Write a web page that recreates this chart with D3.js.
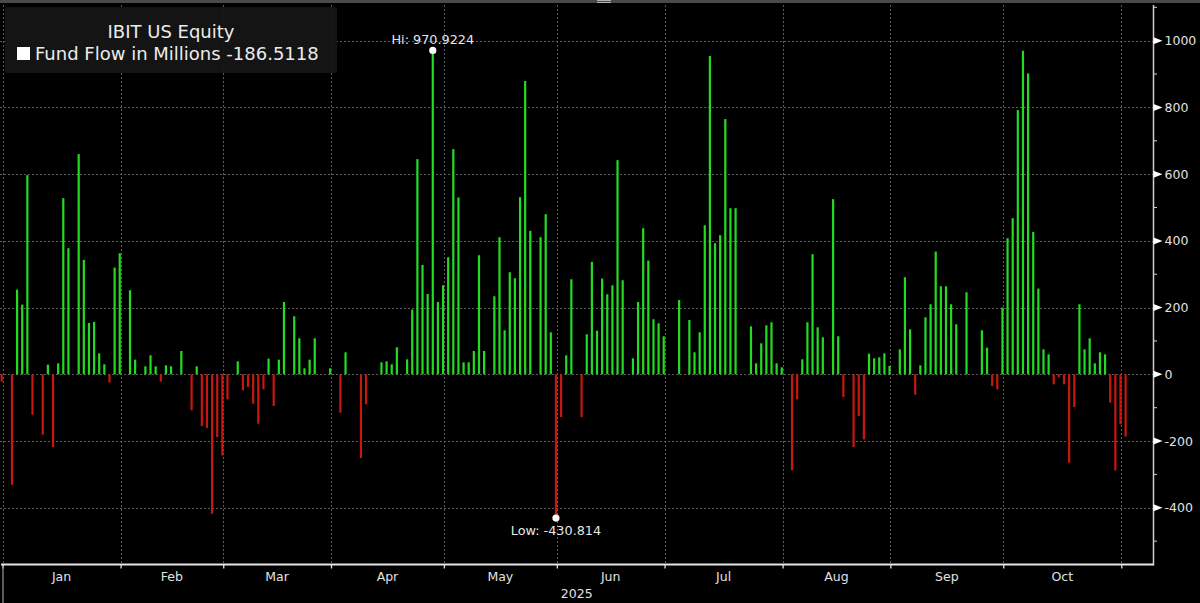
<!DOCTYPE html>
<html>
<head>
<meta charset="utf-8">
<script src="https://cdn.jsdelivr.net/npm/d3@7"></script>
<style>
  html, body { margin: 0; padding: 0; background: #000; overflow: hidden; }
  svg { display: block; }
</style>
</head>
<body>
<svg id="chart" width="1200" height="603"></svg>
<script>
// ---- data (millions USD, one entry per weekday; null = market closed) ----
const ticker = "IBIT US Equity";
const seriesName = "Fund Flow in Millions";
const firstDay = "2024-12-31";
const lastDay = "2025-11-03";
const monthLabels = ["Jan", "Feb", "Mar", "Apr", "May", "Jun", "Jul", "Aug", "Sep", "Oct"];
const yearLabel = "2025";
const yTicks = [-400, -200, 0, 200, 400, 600, 800, 1000];

const flowsDec = [-22];
const flowsJan = [null, -331, 254, 209, 597, -121, null, -181, 29, -218, 33, 528, 378, null, 660, 343, 154, 157, 63, 30, -25, 320, 363];
const flowsFeb = [0, 252, 44, 0, 24, 57, 24, -22, 27, 24, null, 70, 0, -108, 24, -155, -161, -418, -188, -243];
const flowsMar = [-75, 0, 39, -48, -38, -88, -148, -45, 47, -95, 44, 217, 0, 174, 108, 18, 44, 108, 0, 0, 18];
const flowsApr = [0, -115, 66, 0, 0, -251, -90, 0, 0, 36, 39, 30, 81, null, 45, 194, 645, 328, 241, 970.9224, 217, 267];
const flowsMay = [351, 675, 530, 36, 36, 70, 357, 70, 0, 234, 411, 132, 306, 288, 531, 879, 430, null, 411, 480, 126, -430.814];
const flowsJun = [-128, 57, 285, 0, -128, 120, 337, 131, 287, 240, 267, 642, 282, null, 48, 217, 438, 341, 165, 153, 114];
const flowsJul = [0, 0, 223, null, 163, 66, 126, 447, 954, 393, 417, 765, 498, 498, 0, 0, 144, 33, 93, 147, 156, 33, 21];
const flowsAug = [0, -288, -75, 45, 156, 360, 141, 111, 0, 525, 114, -68, 0, -218, -125, -195, 62, 48, 51, 63, 25];
const flowsSep = [null, 75, 291, 135, -61, 27, 171, 210, 368, 264, 264, 210, 150, 0, 246, 0, 0, 132, 80, -35, -45, 200];
const flowsOct = [408, 468, 792, 969.9, 902, 427, 257, 75, 60, -30, -9, -30, -265, -98, 210, 75, 108, 33, 66, 60, -85, -288, -150];
const flowsNov = [-186.5118];

// ---- build table ----
const parse = d3.timeParse("%Y-%m-%d");
const days = d3.timeDay.range(parse(firstDay), d3.timeDay.offset(parse(lastDay), 1))
  .filter(d => d.getDay() !== 0 && d.getDay() !== 6);
const flows = [].concat(flowsDec, flowsJan, flowsFeb, flowsMar, flowsApr, flowsMay,
  flowsJun, flowsJul, flowsAug, flowsSep, flowsOct, flowsNov);
const data = days.map((d, i) => ({ date: d, i: i, value: flows[i] }));

const W = 1200, H = 603;
const plotRight = 1153.5, plotTop = 5, plotBottom = 564.5;
const font = "DejaVu Sans, Verdana, sans-serif";

const svg = d3.select("#chart");

const x = d3.scaleLinear()
    .domain([0, data.length - 1])
    .range([1.7, 1125.6]);

const y = d3.scaleLinear()
    .domain([-570, 1107])
    .range([plotBottom, plotTop]);

// top strip
svg.append("rect").attr("x", 0).attr("y", 0).attr("width", W).attr("height", 3).attr("fill", "#4a4a4a");
svg.append("line").attr("x1", 597).attr("x2", 611).attr("y1", 0.5).attr("y2", 0.5).attr("stroke", "#b0b0b0");
svg.append("line").attr("x1", 597).attr("x2", 611).attr("y1", 2.5).attr("y2", 2.5).attr("stroke", "#b0b0b0");

// month boundaries: just after the last weekday of the previous month
const boundaries = [];
for (let m = 0; m <= 10; m++) {
  const k = data.findIndex(d => d.date.getFullYear() === 2025 && d.date.getMonth() === m);
  boundaries.push(x(k - 1) + 0.85);
}

// grid
const grid = svg.append("g").attr("stroke", "#5c5c5c").attr("stroke-dasharray", "2,2").attr("stroke-width", 1);
grid.selectAll("line.h")
    .data(yTicks)
    .enter().append("line")
    .attr("class", "h")
    .attr("x1", 0).attr("x2", plotRight)
    .attr("y1", d => Math.round(y(d)) + 0.5).attr("y2", d => Math.round(y(d)) + 0.5);
grid.selectAll("line.v")
    .data(boundaries)
    .enter().append("line")
    .attr("class", "v")
    .attr("x1", d => Math.round(d) + 0.5).attr("x2", d => Math.round(d) + 0.5)
    .attr("y1", plotTop).attr("y2", plotBottom);

// bars
const barW = 2.2;
svg.append("g")
  .selectAll("rect")
  .data(data.filter(d => d.value))
  .enter().append("rect")
  .attr("x", d => x(d.i) - barW / 2)
  .attr("width", barW)
  .attr("y", d => y(Math.max(0, d.value)))
  .attr("height", d => Math.abs(y(d.value) - y(0)))
  .attr("fill", d => d.value > 0 ? "#22dc22" : "#c8170f");

// hi / low markers
const valid = data.filter(d => d.value != null);
const hi = valid.reduce((a, b) => b.value > a.value ? b : a);
const lo = valid.reduce((a, b) => b.value < a.value ? b : a);
[hi, lo].forEach(d => {
  svg.append("circle")
      .attr("cx", x(d.i)).attr("cy", y(d.value)).attr("r", 3.6)
      .attr("fill", "#fff");
});
svg.append("text")
    .attr("x", x(hi.i)).attr("y", y(hi.value) - 6)
    .attr("text-anchor", "middle")
    .attr("font-family", font).attr("font-size", 12.8)
    .attr("fill", "#e6e6e6")
    .text(`Hi: ${hi.value}`);
svg.append("text")
    .attr("x", x(lo.i)).attr("y", y(lo.value) + 17)
    .attr("text-anchor", "middle")
    .attr("font-family", font).attr("font-size", 12.8)
    .attr("fill", "#e6e6e6")
    .text(`Low: ${lo.value}`);

// right axis
const yAxis = d3.axisRight(y)
    .tickValues(yTicks)
    .tickFormat(d => String(d))
    .tickSize(0)
    .tickPadding(11);
const gy = svg.append("g")
    .attr("transform", `translate(${plotRight},0)`)
    .call(yAxis);
gy.select(".domain").remove();
gy.selectAll("text")
    .attr("font-family", font).attr("font-size", 12.5)
    .attr("fill", "#e2e2e2");
svg.append("line")
    .attr("x1", plotRight).attr("x2", plotRight)
    .attr("y1", plotTop).attr("y2", plotBottom + 1)
    .attr("stroke", "#cfcfcf").attr("stroke-width", 1.5);
// minor ticks every 100
svg.append("g").selectAll("line")
    .data(d3.range(-500, 1101, 100).filter(v => v % 200 !== 0))
    .enter().append("line")
    .attr("x1", plotRight).attr("x2", plotRight + 3.5)
    .attr("y1", d => y(d)).attr("y2", d => y(d))
    .attr("stroke", "#cfcfcf").attr("stroke-width", 1);
// major markers
svg.append("g").selectAll("path")
    .data(yTicks)
    .enter().append("path")
    .attr("d", d => `M${plotRight},${y(d) - 3.5}L${plotRight + 9},${y(d)}L${plotRight},${y(d) + 3.5}Z`)
    .attr("fill", "#fff");

// bottom axis
const xAxis = d3.axisBottom(x)
    .tickValues(boundaries.map(b => x.invert(b)))
    .tickSize(4)
    .tickFormat("");
const gx = svg.append("g")
    .attr("transform", `translate(0,${plotBottom})`)
    .call(xAxis);
gx.select(".domain").remove();
gx.selectAll("line").attr("stroke", "#e6e6e6").attr("stroke-width", 1.3);
svg.append("line")
    .attr("x1", 1).attr("x2", plotRight)
    .attr("y1", plotBottom).attr("y2", plotBottom)
    .attr("stroke", "#e6e6e6").attr("stroke-width", 1.8);

svg.append("g").selectAll("text")
    .data(monthLabels)
    .enter().append("text")
    .attr("x", (d, i) => (boundaries[i] + boundaries[i + 1]) / 2)
    .attr("y", 581)
    .attr("text-anchor", "middle")
    .attr("font-family", font).attr("font-size", 12.5)
    .attr("fill", "#e2e2e2")
    .text(d => d);
svg.append("text")
    .attr("x", (0 + plotRight) / 2)
    .attr("y", 598)
    .attr("text-anchor", "middle")
    .attr("font-family", font).attr("font-size", 12.5)
    .attr("fill", "#e2e2e2")
    .text(yearLabel);
svg.append("line")
    .attr("x1", 3).attr("x2", 3).attr("y1", 567).attr("y2", 603)
    .attr("stroke", "#9a9a9a").attr("stroke-width", 1.2);

// legend
const lg = svg.append("g");
lg.append("rect")
    .attr("x", 5).attr("y", 7).attr("width", 332).attr("height", 66)
    .attr("rx", 2)
    .attr("fill", "#151515").attr("fill-opacity", 0.93);
lg.append("text")
    .attr("x", 171).attr("y", 37.5)
    .attr("text-anchor", "middle")
    .attr("font-family", font).attr("font-size", 18)
    .attr("fill", "#ececec")
    .text(ticker);
lg.append("rect")
    .attr("x", 17).attr("y", 47).attr("width", 13).attr("height", 13)
    .attr("fill", "#fff");
lg.append("text")
    .attr("x", 35).attr("y", 60)
    .attr("font-family", font).attr("font-size", 18)
    .attr("fill", "#ececec")
    .text(`${seriesName} ${flows[flows.length - 1]}`);
</script>
</body>
</html>
